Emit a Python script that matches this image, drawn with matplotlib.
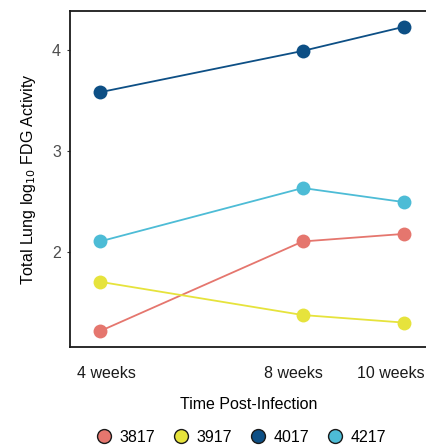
import matplotlib.pyplot as plt
from matplotlib.lines import Line2D
import matplotlib.transforms as mtransforms

plt.rcParams['font.family'] = ['Liberation Sans', 'DejaVu Sans']

#### DATA ####
weeks = [4, 8, 10]
week_labels = ['4 weeks', '8 weeks', '10 weeks']
animals = ['3817', '3917', '4017', '4217']
fdg_3817 = [1.21, 2.10, 2.175]
fdg_3917 = [1.70, 1.37, 1.295]
fdg_4017 = [3.58, 3.99, 4.23]
fdg_4217 = [2.10, 2.63, 2.49]
colors = ['#E5766E', '#E6E33C', '#0D4F85', '#4DBCD6']


def make_plot():
    fig = plt.figure(figsize=(4.27, 4.47), dpi=100)
    ax = fig.add_axes([70 / 427, 1 - 347 / 447, 1 - 70 / 427, 336 / 447])

    series = [fdg_3817, fdg_3917, fdg_4017, fdg_4217]
    for vals, col in zip(series, colors):
        ax.plot(weeks, vals, color=col, lw=1.3, marker='o', ms=10,
                markeredgewidth=0, solid_capstyle='round')

    ax.set_xlim(3.41, 10.45)
    ax.set_ylim(1.053, 4.386)

    ax.set_yticks([2, 3, 4])
    ax.set_xticks(weeks)
    ax.set_xticklabels(week_labels)
    ax.tick_params(axis='y', length=2.5, width=0.8, color='#333333',
                   labelsize=11.5, labelcolor='#4d4d4d', pad=4)
    ax.tick_params(axis='x', length=0, labelsize=11.5, labelcolor='#1a1a1a', pad=14)
    # in the original the week labels don't sit exactly under the points
    nudges_px = [7, -9, -13]
    for lbl, dx in zip(ax.get_xticklabels(), nudges_px):
        shift = mtransforms.ScaledTranslation(dx / 100, 0, fig.dpi_scale_trans)
        lbl.set_transform(lbl.get_transform() + shift)

    for side in ['top', 'left', 'bottom']:
        ax.spines[side].set_linewidth(1.3)
        ax.spines[side].set_color('#1a1a1a')
    ax.spines['right'].set_visible(False)

    ax.set_xlabel('Time Post-Infection', fontsize=11.5, labelpad=11)
    ax.set_ylabel('Total Lung log$_{10}$ FDG Activity', fontsize=11.5, labelpad=10)

    handles = [Line2D([], [], ls='none', marker='o', ms=10, markerfacecolor=c,
                      markeredgecolor='#1a1a1a', markeredgewidth=1.0)
               for c in colors]
    fig.legend(handles, animals, loc='center', bbox_to_anchor=(241 / 427, 1 - 437 / 447),
               ncol=4, frameon=False, fontsize=11.5, handletextpad=0.45,
               columnspacing=1.15, handlelength=1.0, borderpad=0)

    fig.savefig('out.png', dpi=100)


if __name__ == "__main__":
    make_plot()
